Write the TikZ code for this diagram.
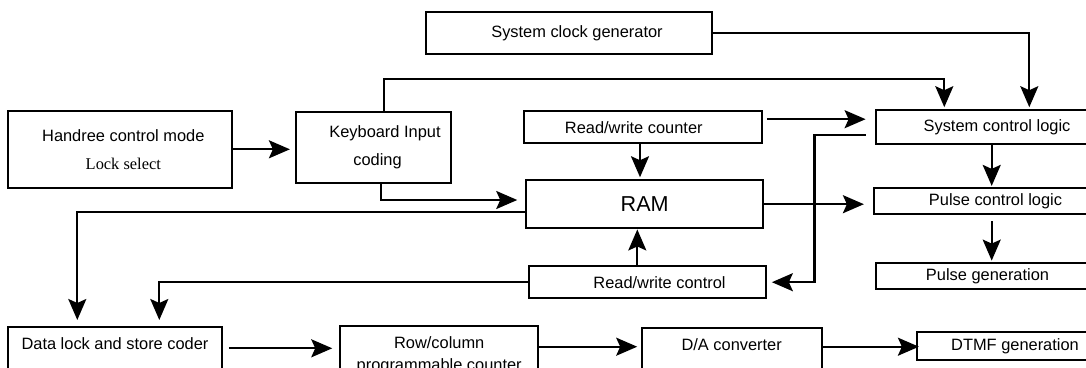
\documentclass[tikz,border=0pt]{standalone}
\usepackage{fontspec}
\setmainfont{Liberation Sans}
\newfontfamily\lockfont{Liberation Serif}
\usetikzlibrary{arrows.meta,calc}
\begin{document}
\begin{tikzpicture}[x=1pt,y=-1pt,
  box/.style={draw, line width=2.2pt, inner sep=0pt, rectangle, font=\fontsize{16.4}{28.3}\selectfont},
  openbox/.style={box, anchor=north, text depth=80pt},
  arr/.style={line width=2.2pt, -{Stealth[length=21pt,width=18pt,inset=4pt]}}]
\useasboundingbox (0,0) rectangle (1086,367);
\clip (0,0) rectangle (1086,367);
% boxes
\node[box, minimum width=286pt, minimum height=41.7pt] (clk) at (568.7,33.2) {\hspace*{16.6pt}System clock generator};
\node[box, align=center, minimum width=224pt, minimum height=76.7pt] (hand) at (120.3,149.3) {\hspace*{6pt}Handree control mode\\\hspace*{6pt}{\lockfont Lock select}};
\node[box, align=center, minimum width=155pt, minimum height=71.6pt] (kbd) at (373.5,147.5) {\hspace*{23pt}Keyboard Input\\\hspace*{8pt}coding};
\node[box, minimum width=237.7pt, minimum height=32.3pt] (rwc) at (642.8,127.2) {Read/write counter\hspace*{18pt}};
\node[box, minimum width=237.3pt, minimum height=48.3pt, font=\fontsize{21.6}{26}\selectfont] (ram) at (644.7,204.2) {RAM};
\node[box, minimum width=236.7pt, minimum height=32.3pt] (rwctl) at (647.7,282.2) {\hspace*{23.6pt}Read/write control};
\node[box, minimum width=242pt, minimum height=34pt] (scl) at (997,127) {System control logic};
\node[box, minimum width=243pt, minimum height=26pt] (pcl) at (995.5,201.3) {Pulse control logic};
\node[box, minimum width=223pt, minimum height=26pt] (pg) at (987.5,276.3) {Pulse generation};
\node[box, minimum width=196.6pt, minimum height=28.3pt] (dtmf) at (1015,345.8) {DTMF generation};
\node[openbox, minimum width=213.4pt, text height=22.5pt] (data) at (115,325.7) {Data lock and store coder};
\node[openbox, minimum width=198.3pt, text height=22.8pt, font=\fontsize{16.4}{21.7}\selectfont] (row) at (439.2,325) {\begin{tabular}[t]{@{}c@{}}Row/column\\programmable counter\end{tabular}};
\node[openbox, minimum width=180pt, text height=23.1pt] (da) at (731.7,326.7) {D/A converter};
% connectors
\draw[arr, shorten >=5pt] (hand.east) -- (hand.east -| kbd.west);
\draw[arr, shorten >=1.7pt] ([xshift=10.8pt]kbd.north) -- ++(0,-31.4) -| ([xshift=-52.7pt]scl.north);
\draw[arr, shorten >=1.7pt] (clk.east) -| ([xshift=32.3pt]scl.north);
\draw[arr, shorten <=4pt, shorten >=9.3pt] ([yshift=8pt]rwc.east) -- ([yshift=8pt]rwc.east -| scl.west);
\draw[arr, shorten <=9.3pt, shorten >=4.7pt] ([yshift=-8pt]scl.west) -| ($(rwctl.east)+(47.3,0)$) -- (rwctl.east);
\draw[arr, shorten >=1.7pt] ([xshift=-2.8pt]rwc.south) -- ([xshift=-2.8pt]rwc.south |- ram.north);
\draw[arr, shorten >=7.7pt] ([xshift=7.5pt]kbd.south) |- ([yshift=4.2pt]ram.west);
\draw[arr, shorten >=5.7pt] ([yshift=-8.1pt]ram.west) -| ([xshift=-37.7pt]data.north);
\draw[arr, shorten >=9pt] (ram.east) -- (ram.east -| pcl.west);
\draw[arr] ([xshift=-10.4pt]rwctl.north) -- ([xshift=-10.4pt]rwctl.north |- ram.south);
\draw[arr, shorten >=5.7pt] (rwctl.west) -| ([xshift=44.3pt]data.north);
\draw[arr, shorten >=1.3pt] ([xshift=-5.3pt]scl.south) -- ([xshift=-5.3pt]scl.south |- pcl.north);
\draw[arr, shorten <=5.7pt, shorten >=1.6pt] ([xshift=-3.8pt]pcl.south) -- ([xshift=-3.8pt]pcl.south |- pg.north);
\draw[arr, shorten <=6pt, shorten >=6.7pt] ([yshift=-22.6pt]data.north east) -- ([yshift=-22.6pt]data.north east -| row.west);
\draw[arr, shorten >=3.4pt] ([yshift=-21.7pt]row.north east) -- ([yshift=-21.7pt]row.north east -| da.west);
\draw[arr, shorten >=-3.3pt] ([yshift=-20pt]da.north east) -- ([yshift=-20pt]da.north east -| dtmf.west);
\end{tikzpicture}
\end{document}
